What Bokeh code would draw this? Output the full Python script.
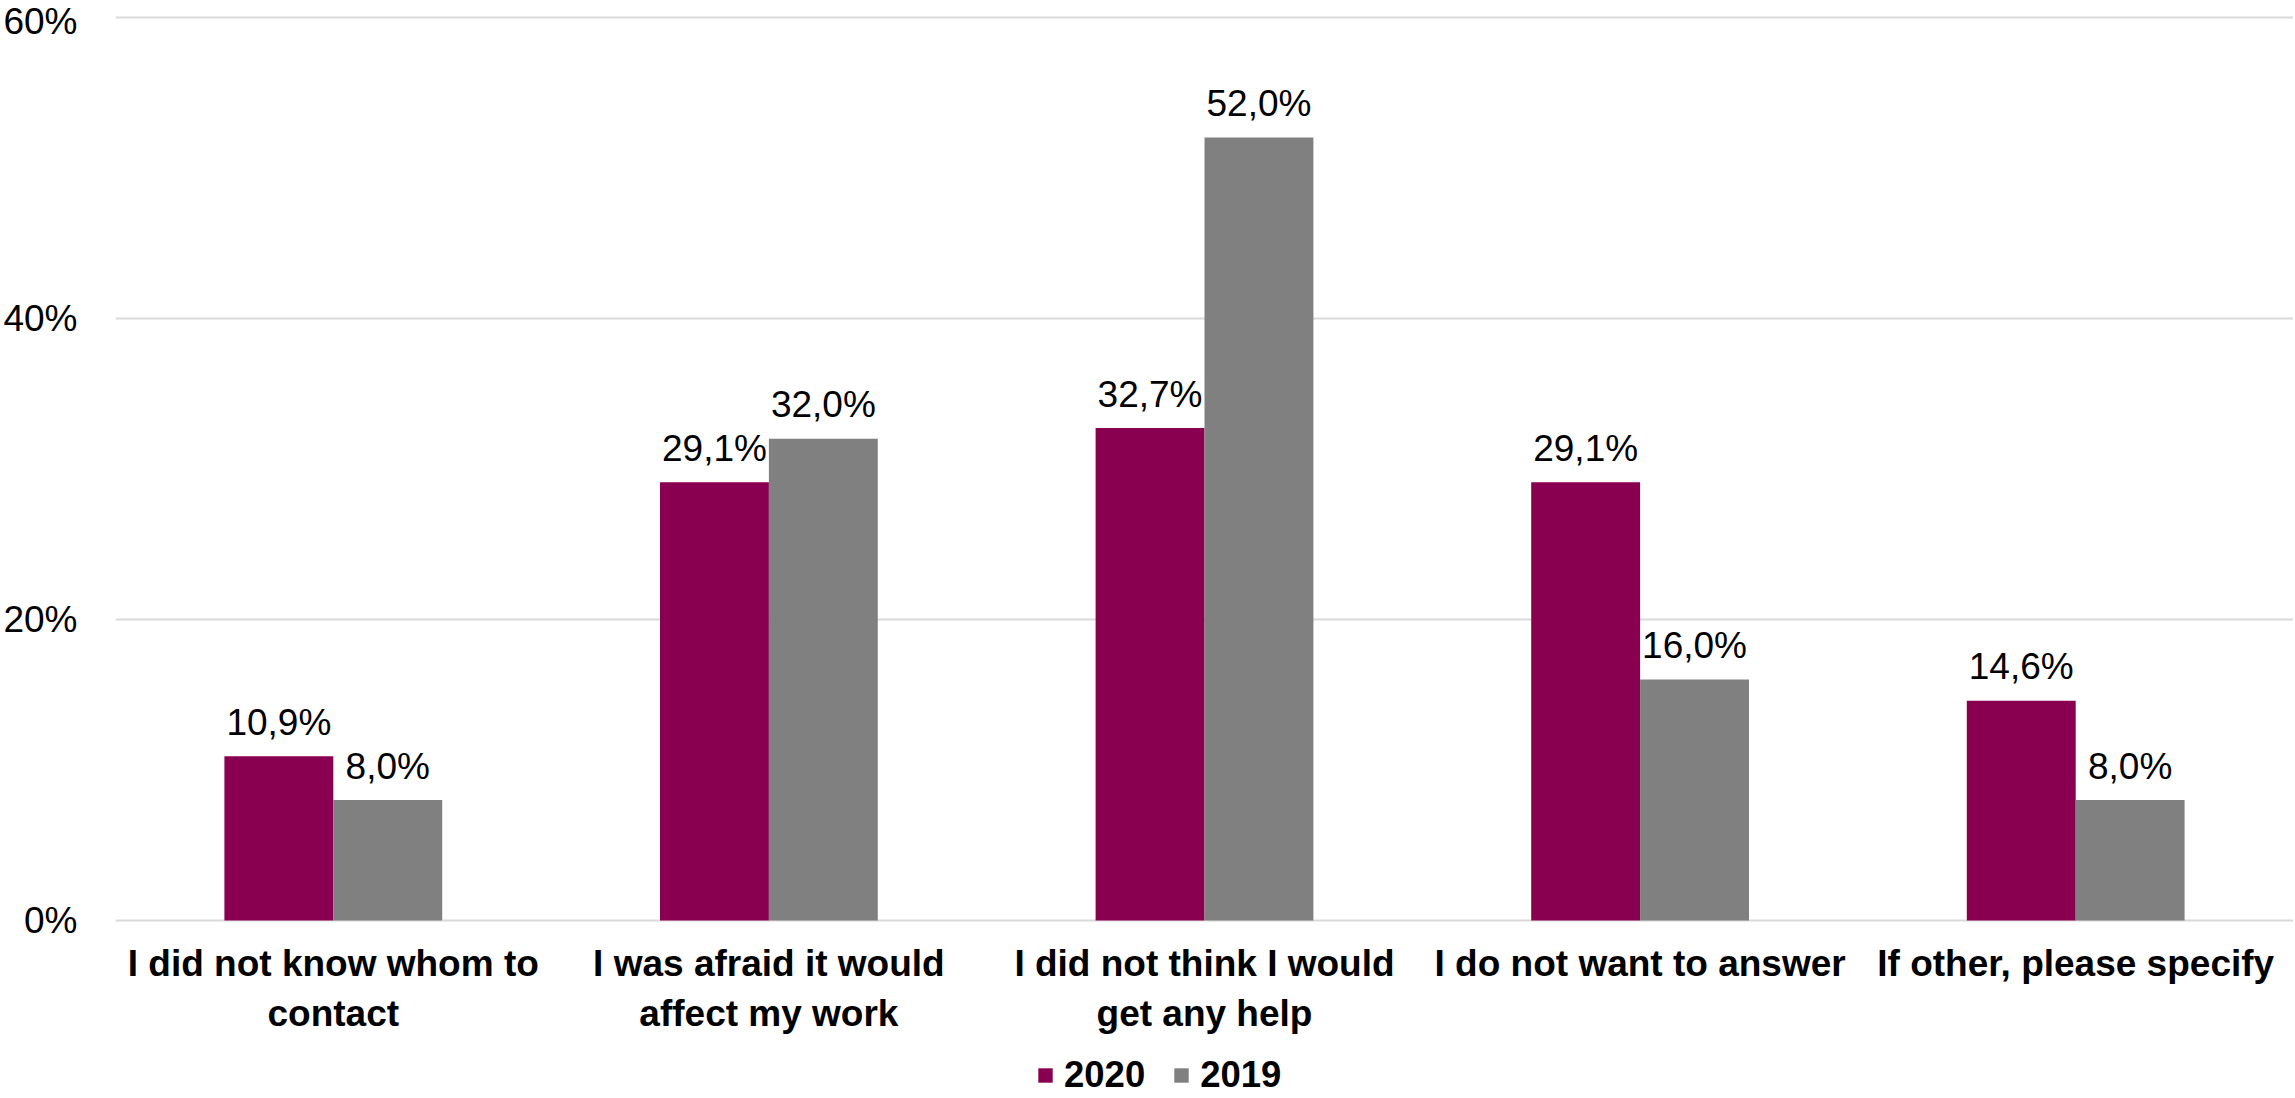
from bokeh.plotting import figure
from bokeh.models import FactorRange, Range1d, ColumnDataSource, FixedTicker, PrintfTickFormatter
from bokeh.transform import dodge
from bokeh.core.properties import value
from bokeh.embed import file_html
from bokeh.resources import INLINE

categories = [
    "I did not know whom to\ncontact",
    "I was afraid it would\naffect my work",
    "I did not think I would\nget any help",
    "I do not want to answer",
    "If other, please specify",
]
values_2020 = [10.9, 29.1, 32.7, 29.1, 14.6]
values_2019 = [8.0, 32.0, 52.0, 16.0, 8.0]
y_ticks = [0, 20, 40, 60]

C2020 = "#8a0050"
C2019 = "#808080"
FONT = "Liberation Sans"


def fmt(v):
    return f"{v:.1f}".replace(".", ",") + "%"


src = ColumnDataSource(dict(
    cat=categories,
    v2020=values_2020,
    v2019=values_2019,
    l2020=[fmt(v) for v in values_2020],
    l2019=[fmt(v) for v in values_2019],
))

p = figure(
    width=2293, height=1096,
    x_range=FactorRange(factors=categories, range_padding=0, factor_padding=0),
    y_range=Range1d(-11.69, 61.1),
    output_backend="svg", toolbar_location=None,
    min_border_left=112, min_border_right=0, min_border_top=0, min_border_bottom=0,
)
p.outline_line_color = None
p.background_fill_color = "white"

p.vbar(x=dodge("cat", -0.125, range=p.x_range), top="v2020", width=0.25, source=src,
       fill_color=C2020, line_color=None, legend_label="2020")
p.vbar(x=dodge("cat", 0.125, range=p.x_range), top="v2019", width=0.25, source=src,
       fill_color=C2019, line_color=None, legend_label="2019")

for off, col, ycol in ((-0.125, "l2020", "v2020"), (0.125, "l2019", "v2019")):
    p.text(x=dodge("cat", off, range=p.x_range), y=ycol, text=col, source=src,
           text_align="center", text_baseline="middle", y_offset=-34,
           text_font=value(FONT), text_font_size="37px", text_color="black")

# y axis
p.yaxis.ticker = FixedTicker(ticks=y_ticks)
p.yaxis.formatter = PrintfTickFormatter(format="%d%%")
p.yaxis.axis_line_color = None
p.yaxis.major_tick_line_color = None
p.yaxis.minor_tick_line_color = None
p.yaxis.major_label_standoff = 32
p.yaxis.major_label_text_font = FONT
p.yaxis.major_label_text_font_size = "37px"
p.yaxis.major_label_text_color = "black"

# x axis, drawn at y = 0
p.xaxis.fixed_location = 0
p.xaxis.axis_line_color = None
p.xaxis.major_tick_line_color = None
p.xaxis.minor_tick_line_color = None
p.xaxis.major_label_standoff = 17
p.xaxis.major_label_text_font = FONT
p.xaxis.major_label_text_font_size = "37px"
p.xaxis.major_label_text_font_style = "bold"
p.xaxis.major_label_text_color = "black"

p.xgrid.grid_line_color = None
p.ygrid.ticker = FixedTicker(ticks=y_ticks)
p.ygrid.grid_line_color = "#d9d9d9"
p.ygrid.grid_line_width = 2

lg = p.legend[0]
lg.location = (921, 0)
lg.orientation = "horizontal"
lg.glyph_width = 18
lg.glyph_height = 18
lg.label_standoff = 10
lg.spacing = 27
lg.padding = 0
lg.margin = 0
lg.border_line_color = None
lg.background_fill_alpha = 0
lg.label_text_font = FONT
lg.label_text_font_size = "36.5px"
lg.label_text_font_style = "bold"
lg.label_text_color = "black"

open("out.html", "w").write(file_html(p, INLINE))
